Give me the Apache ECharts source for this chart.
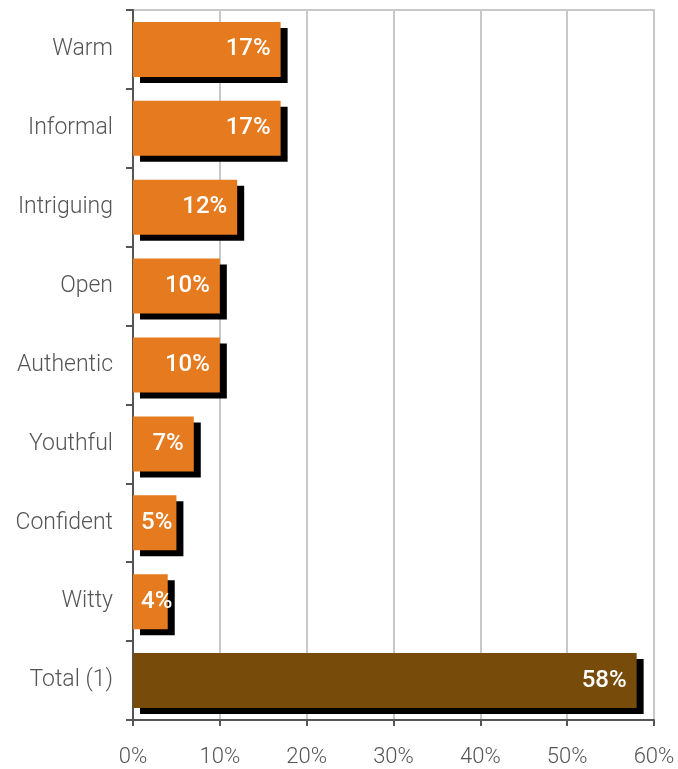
<!DOCTYPE html>
<html>
<head>
<meta charset="utf-8">
<script src="https://cdn.jsdelivr.net/npm/echarts@6/dist/echarts.min.js"></script>
<style>
  html, body { margin: 0; padding: 0; background: #fff; }
  #chart { width: 678px; height: 769px; }
</style>
</head>
<body>
<div id="chart"></div>
<script>
// Share of respondents choosing each attribute (percent)
const categories = ['Warm', 'Informal', 'Intriguing', 'Open', 'Authentic', 'Youthful', 'Confident', 'Witty', 'Total (1)'];
const values = [17, 17, 12, 10, 10, 7, 5, 4, 58];
const xTicks = [0, 10, 20, 30, 40, 50, 60];

const ORANGE = '#E67A1E';
const BROWN = '#774B0A';
const TEXT = '#555';
const FONT = 'Roboto, "Liberation Sans", Arial, sans-serif';

const chart = echarts.init(document.getElementById('chart'), null, { renderer: 'canvas' });

// Short bars cannot hold their label at the end, so it starts from the bar's left
const barData = values.map((v, i) => {
  const item = {
    value: v,
    itemStyle: { color: categories[i] === 'Total (1)' ? BROWN : ORANGE }
  };
  if (v <= 5) item.label = { position: 'insideLeft', distance: 8 };
  return item;
});

chart.setOption({
  animation: false,
  grid: {
    left: 133, right: 24, top: 10, bottom: 49,
    show: true, borderColor: '#c8c8c8', borderWidth: 2
  },
  xAxis: {
    type: 'value',
    min: xTicks[0],
    max: xTicks[xTicks.length - 1],
    interval: 10,
    axisLine: { show: true, lineStyle: { color: TEXT, width: 2 } },
    axisTick: { show: true, length: 6, lineStyle: { color: TEXT, width: 2 } },
    axisLabel: {
      formatter: v => v + '%',
      color: TEXT, fontSize: 22, fontWeight: 300, margin: 26,
      fontFamily: FONT
    },
    splitLine: { show: true, lineStyle: { color: '#c8c8c8', width: 2 } }
  },
  yAxis: {
    type: 'category',
    data: categories,
    inverse: true,
    axisLine: { show: true, lineStyle: { color: TEXT, width: 2 } },
    axisTick: { show: true, length: 7, lineStyle: { color: TEXT, width: 2 } },
    axisLabel: {
      color: TEXT, fontSize: 23, fontWeight: 300, margin: 20,
      fontFamily: FONT
    },
    splitLine: { show: false }
  },
  series: [{
    type: 'bar',
    data: barData,
    barWidth: 55,
    itemStyle: {
      shadowColor: '#000',
      shadowBlur: 0,
      shadowOffsetX: 7,
      shadowOffsetY: 6
    },
    label: {
      show: true,
      position: 'insideRight',
      distance: 10,
      formatter: p => p.value + '%',
      color: '#fff',
      fontSize: 24,
      fontWeight: 500,
      fontFamily: FONT
    }
  }]
});
</script>
</body>
</html>
